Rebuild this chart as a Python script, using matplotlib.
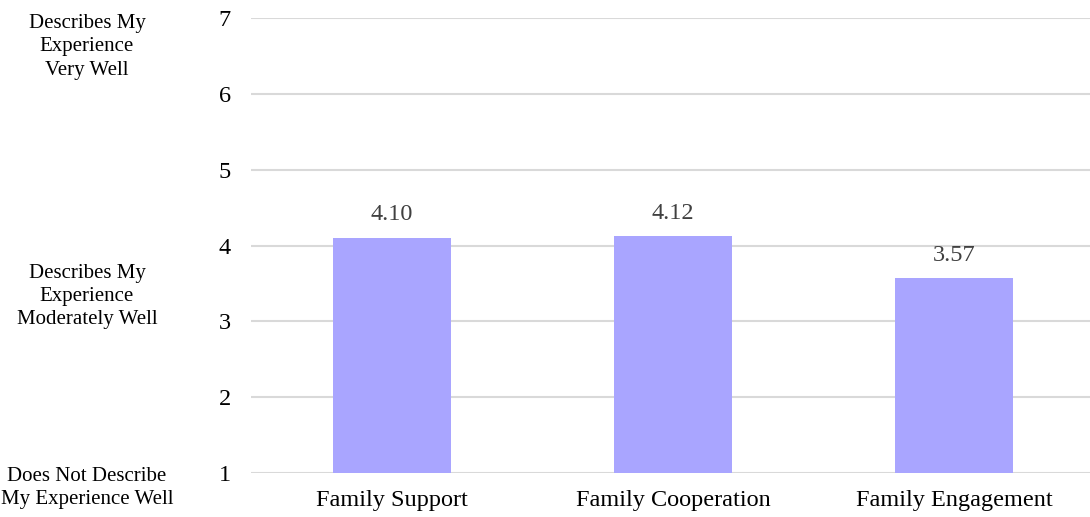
import matplotlib.pyplot as plt
import matplotlib.transforms as mtransforms

# data
categories = ["Family Support", "Family Cooperation", "Family Engagement"]
scores = [4.10, 4.12, 3.57]
y_ticks = [1, 2, 3, 4, 5, 6, 7]
scale_labels = ["Does Not Describe\nMy Experience Well",
                "Describes My\nExperience\nModerately Well",
                "Describes My\nExperience\nVery Well"]
scale_label_pos = [0.80, 3.33, 6.62]

plt.rcParams['font.family'] = ['Liberation Serif', 'DejaVu Serif']

fig = plt.figure(figsize=(10.9, 5.17), dpi=100)
ax = fig.add_axes([0.2307, 0.085, 0.7734, 0.88])

x = range(len(categories))
ax.bar(x, scores, width=0.42, color='#A9A5FF', zorder=2)

for xi, v in zip(x, scores):
    ax.annotate(f"{v:.2f}", (xi, v), xytext=(0, 9), textcoords='offset points',
                ha='center', va='bottom', fontsize=17.5, color='#404040')

ax.set_xlim(-0.5, 2.5)
ax.set_ylim(1, 7)
ax.set_yticks(y_ticks)
ax.set_xticks(list(x))
ax.set_xticklabels(categories)
ax.tick_params(axis='y', length=0, pad=15, labelsize=17.5)
ax.tick_params(axis='x', length=0, pad=12, labelsize=17.5)
ax.grid(axis='y', color='#d9d9d9', linewidth=1.5, zorder=0)
for s in ax.spines.values():
    s.set_visible(False)

trans = mtransforms.blended_transform_factory(fig.transFigure, ax.transData)
for lab, yp in zip(scale_labels, scale_label_pos):
    ax.text(87 / 1090, yp, lab, transform=trans, ha='center', va='center',
            fontsize=15, linespacing=1.3, clip_on=False)

fig.savefig("out.png", dpi=100)
